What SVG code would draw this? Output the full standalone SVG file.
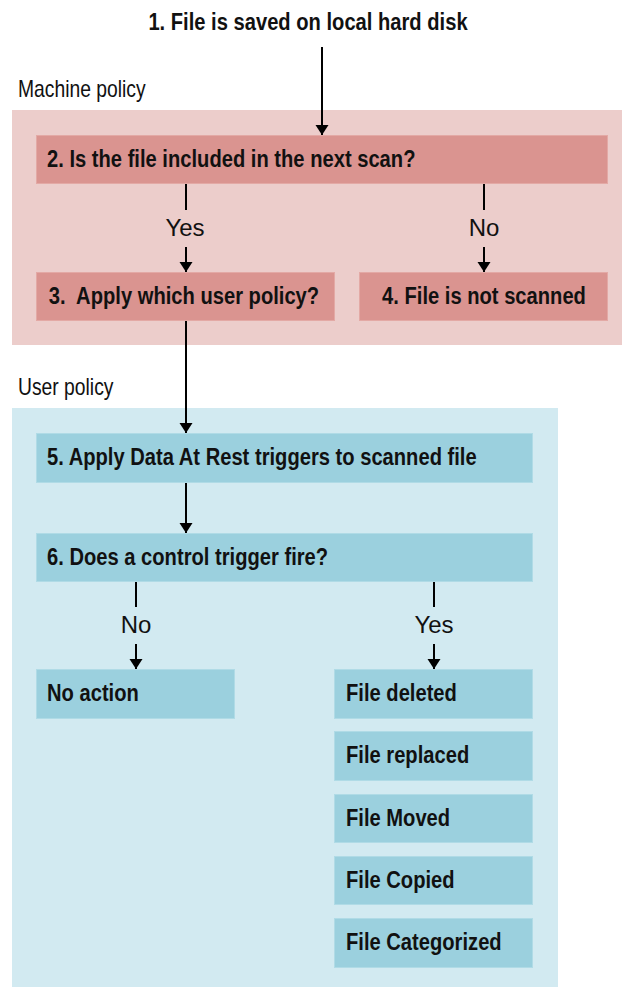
<svg xmlns="http://www.w3.org/2000/svg" width="622" height="987" viewBox="0 0 622 987">
  <style>
    text { font-family: "Liberation Sans", Arial, sans-serif; fill: #111; }
    .bold { font-weight: bold; font-size: 24px; }
    .reg { font-weight: normal; font-size: 23px; }
    .lbl { font-weight: normal; font-size: 24px; text-anchor: middle; }
    .mid { text-anchor: middle; }
    .pbox { fill: #DA9490; stroke: #E3A9A5; stroke-width: 1; }
    .bbox { fill: #9BD0DE; stroke: #B0DBE6; stroke-width: 1; }
    .conn { stroke: #000; stroke-width: 2; fill: none; }
  </style>
  <defs>
    <marker id="arrow" markerUnits="userSpaceOnUse" markerWidth="12" markerHeight="14" viewBox="0 -7 10 14" refX="10" refY="0" orient="auto">
      <path d="M0,-6.5 L10,0 L0,6.5 z" fill="#000"/>
    </marker>
  </defs>

  <rect width="622" height="987" fill="#fff"/>

  <!-- policy panels; narrow lettering is a horizontally condensed sans -->
  <g id="machine-policy">
    <rect x="12" y="110" width="610" height="235" fill="#ECCDCB"/>
    <text class="reg" transform="translate(18 97) scale(0.84 1)">Machine policy</text>
  </g>
  <g id="user-policy">
    <rect x="12" y="408" width="546" height="579" fill="#D2EAF1"/>
    <text class="reg" transform="translate(18 395) scale(0.84 1)">User policy</text>
  </g>

  <!-- steps -->
  <g id="step1">
    <text class="bold mid" transform="translate(308 29.5) scale(0.84 1)">1. File is saved on local hard disk</text>
  </g>
  <g id="step2">
    <rect class="pbox" x="36.5" y="135.5" width="571" height="48"/>
    <text class="bold" transform="translate(47 167) scale(0.84 1)">2. Is the file included in the next scan?</text>
  </g>
  <g id="step3">
    <rect class="pbox" x="36.5" y="272.5" width="298" height="48"/>
    <text class="bold mid" transform="translate(184 304) scale(0.84 1)" xml:space="preserve">3.  Apply which user policy?</text>
  </g>
  <g id="step4">
    <rect class="pbox" x="359.5" y="272.5" width="248" height="48"/>
    <text class="bold mid" transform="translate(484 304) scale(0.84 1)">4. File is not scanned</text>
  </g>
  <g id="step5">
    <rect class="bbox" x="36.5" y="433.5" width="496" height="49"/>
    <text class="bold" transform="translate(47 465) scale(0.84 1)">5. Apply Data At Rest triggers to scanned file</text>
  </g>
  <g id="step6">
    <rect class="bbox" x="36.5" y="533.5" width="496" height="48"/>
    <text class="bold" transform="translate(47 564.5) scale(0.84 1)">6. Does a control trigger fire?</text>
  </g>
  <g id="no-action">
    <rect class="bbox" x="36.5" y="669.5" width="198" height="49"/>
    <text class="bold" transform="translate(47 700.5) scale(0.84 1)">No action</text>
  </g>
  <g id="file-deleted">
    <rect class="bbox" x="334.5" y="669.5" width="198" height="49"/>
    <text class="bold" transform="translate(346 700.5) scale(0.84 1)">File deleted</text>
  </g>
  <g id="file-replaced">
    <rect class="bbox" x="334.5" y="731.5" width="198" height="49"/>
    <text class="bold" transform="translate(346 762.5) scale(0.84 1)">File replaced</text>
  </g>
  <g id="file-moved">
    <rect class="bbox" x="334.5" y="794.5" width="198" height="48"/>
    <text class="bold" transform="translate(346 825.5) scale(0.84 1)">File Moved</text>
  </g>
  <g id="file-copied">
    <rect class="bbox" x="334.5" y="856.5" width="198" height="48"/>
    <text class="bold" transform="translate(346 887.5) scale(0.84 1)">File Copied</text>
  </g>
  <g id="file-categorized">
    <rect class="bbox" x="334.5" y="918.5" width="198" height="49"/>
    <text class="bold" transform="translate(346 950) scale(0.84 1)">File Categorized</text>
  </g>

  <!-- connectors -->
  <g id="connectors">
    <line class="conn" x1="322" y1="47" x2="322" y2="135" marker-end="url(#arrow)"/>

    <line class="conn" x1="186" y1="184" x2="186" y2="210"/>
    <text class="lbl" x="185" y="236">Yes</text>
    <line class="conn" x1="186" y1="247" x2="186" y2="272" marker-end="url(#arrow)"/>

    <line class="conn" x1="484" y1="184" x2="484" y2="210"/>
    <text class="lbl" x="484" y="236">No</text>
    <line class="conn" x1="484" y1="247" x2="484" y2="272" marker-end="url(#arrow)"/>

    <line class="conn" x1="186" y1="321" x2="186" y2="433" marker-end="url(#arrow)"/>
    <line class="conn" x1="186" y1="483" x2="186" y2="533" marker-end="url(#arrow)"/>

    <line class="conn" x1="136" y1="582" x2="136" y2="607"/>
    <text class="lbl" x="136" y="633">No</text>
    <line class="conn" x1="136" y1="644" x2="136" y2="669" marker-end="url(#arrow)"/>

    <line class="conn" x1="434" y1="582" x2="434" y2="607"/>
    <text class="lbl" x="434" y="633">Yes</text>
    <line class="conn" x1="434" y1="644" x2="434" y2="669" marker-end="url(#arrow)"/>
  </g>
</svg>
